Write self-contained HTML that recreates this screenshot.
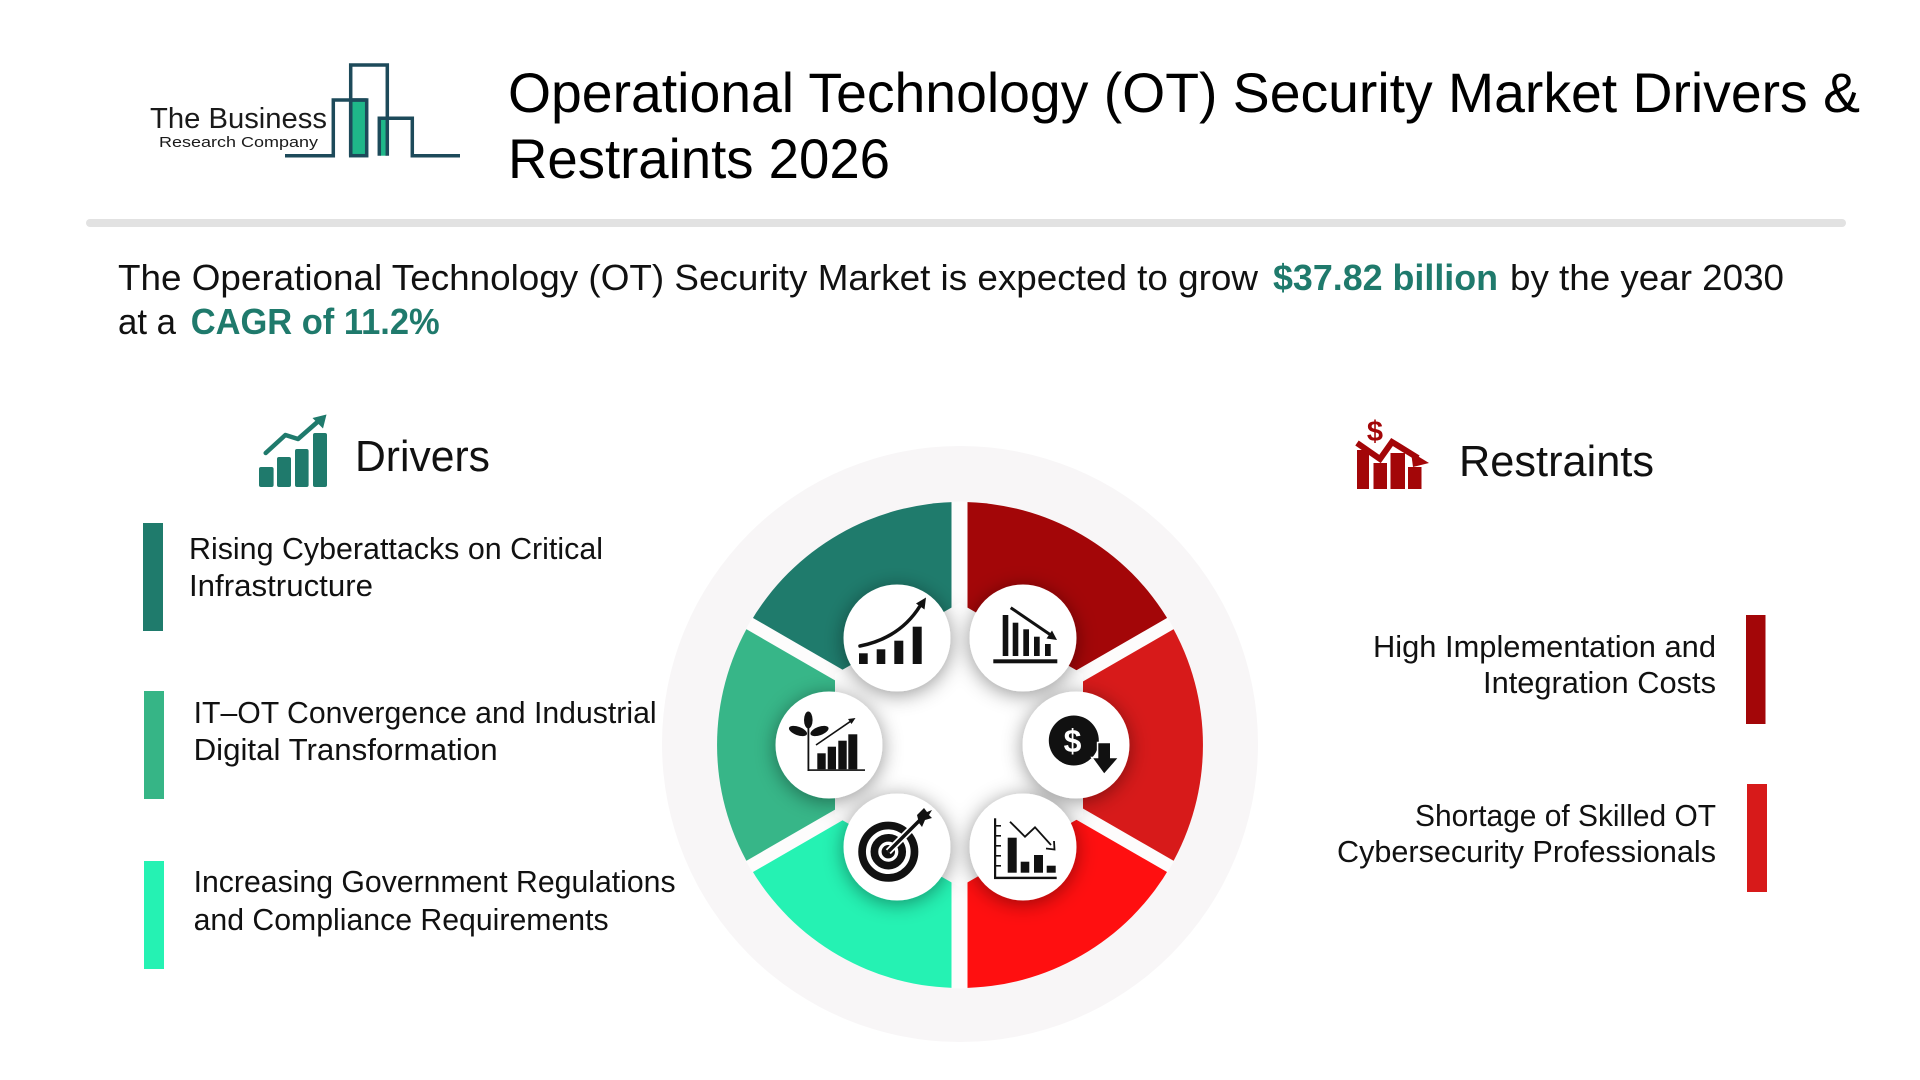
<!DOCTYPE html>
<html>
<head>
<meta charset="utf-8">
<style>
html,body{margin:0;padding:0;background:#fff;}
svg{display:block;}
text{font-family:"Liberation Sans",Arial,sans-serif;}
</style>
</head>
<body>
<svg width="1920" height="1080" viewBox="0 0 1920 1080" xmlns="http://www.w3.org/2000/svg">
<defs>
<filter id="sh" x="-60%" y="-60%" width="220%" height="220%">
<feDropShadow dx="0" dy="3" stdDeviation="10" flood-color="#000" flood-opacity="0.42"/>
</filter>
<clipPath id="ringclip"><circle cx="960" cy="745" r="243.5"/></clipPath>
</defs>
<rect width="1920" height="1080" fill="#fff"/>

<!-- Logo -->
<text x="150" y="128" font-size="29" fill="#1a1a1a" textLength="177" lengthAdjust="spacingAndGlyphs">The Business</text>
<text x="159" y="147" font-size="15" fill="#1a1a1a" textLength="159" lengthAdjust="spacingAndGlyphs">Research Company</text>
<g fill="none" stroke="#1d4a5a" stroke-width="3.5" stroke-linejoin="miter">
<rect x="350.7" y="100" width="16" height="55.7" fill="#1fb789"/>
<rect x="380.5" y="120" width="6" height="35.7" fill="#1fb789" stroke="none"/>
<polyline points="285,155.7 333.3,155.7 333.3,100 366.7,100"/>
<polyline points="350.7,155.7 350.7,65 387.3,65 387.3,155.7"/>
<polyline points="379.3,155.7 379.3,118.3 412.3,118.3 412.3,155.7 460,155.7"/>
</g>

<!-- Title -->
<text x="508" y="112" font-size="56" fill="#000" textLength="1352" lengthAdjust="spacingAndGlyphs">Operational Technology (OT) Security Market Drivers &amp;</text>
<text x="508" y="178" font-size="56" fill="#000" textLength="382" lengthAdjust="spacingAndGlyphs">Restraints 2026</text>

<!-- Separator -->
<rect x="86" y="219" width="1760" height="8" rx="4" fill="#e2e2e2"/>

<!-- Subtitle -->
<text x="118" y="290" font-size="36" fill="#111" textLength="1140" lengthAdjust="spacingAndGlyphs">The Operational Technology (OT) Security Market is expected to grow</text>
<text x="1273" y="290" font-size="36" font-weight="bold" fill="#1f7a6c" textLength="225" lengthAdjust="spacingAndGlyphs">$37.82 billion</text>
<text x="1510" y="290" font-size="36" fill="#111" textLength="274" lengthAdjust="spacingAndGlyphs">by the year 2030</text>
<text x="118" y="334" font-size="36" fill="#111" textLength="58" lengthAdjust="spacingAndGlyphs">at a</text>
<text x="190.7" y="334" font-size="36" font-weight="bold" fill="#1f7a6c" textLength="249" lengthAdjust="spacingAndGlyphs">CAGR of 11.2%</text>

<!-- Drivers heading -->
<g fill="#1f7a6c">
<rect x="259" y="467" width="14.6" height="20" rx="2"/>
<rect x="277" y="457" width="14" height="30" rx="2"/>
<rect x="295" y="449" width="13.6" height="38" rx="2"/>
<rect x="313" y="433" width="14" height="54" rx="2"/>
<polyline points="265.7,453 285.4,435 298,439 318,421.5" fill="none" stroke="#1f7a6c" stroke-width="4.5" stroke-linecap="round" stroke-linejoin="round"/>
<polygon points="326.5,414.5 312.5,418 323,428.5"/>
</g>
<text x="355" y="471" font-size="44" fill="#111" textLength="135" lengthAdjust="spacingAndGlyphs">Drivers</text>

<!-- Restraints heading -->
<g fill="#a30608">
<rect x="1357" y="450" width="12" height="39"/>
<rect x="1373.5" y="463" width="13.5" height="26"/>
<rect x="1390.5" y="453" width="14.5" height="36"/>
<rect x="1408" y="467" width="13.5" height="22"/>
<polyline points="1357,443 1380,459 1392,442 1418,458" fill="none" stroke="#a30608" stroke-width="6" stroke-linejoin="miter"/>
<polygon points="1429,463 1411,452 1413,467"/>
<text x="1375" y="441" font-size="29" font-weight="bold" fill="#a30608" text-anchor="middle">$</text>
</g>
<text x="1459" y="476" font-size="44" fill="#111" textLength="195" lengthAdjust="spacingAndGlyphs">Restraints</text>

<!-- Driver items -->
<rect x="143" y="523" width="20" height="108" fill="#1f7b6c"/>
<text x="189" y="559" font-size="31" fill="#111" textLength="414" lengthAdjust="spacingAndGlyphs">Rising Cyberattacks on Critical</text>
<text x="189" y="596" font-size="31" fill="#111" textLength="184" lengthAdjust="spacingAndGlyphs">Infrastructure</text>

<rect x="144" y="691" width="20" height="108" fill="#36b586"/>
<text x="193.6" y="723" font-size="31" fill="#111" textLength="463" lengthAdjust="spacingAndGlyphs">IT–OT Convergence and Industrial</text>
<text x="193.6" y="760" font-size="31" fill="#111" textLength="304" lengthAdjust="spacingAndGlyphs">Digital Transformation</text>

<rect x="144" y="861" width="20" height="108" fill="#25f2b3"/>
<text x="193.6" y="892" font-size="31" fill="#111" textLength="482" lengthAdjust="spacingAndGlyphs">Increasing Government Regulations</text>
<text x="193.6" y="930" font-size="31" fill="#111" textLength="415" lengthAdjust="spacingAndGlyphs">and Compliance Requirements</text>

<!-- Restraint items -->
<rect x="1746" y="615" width="19.5" height="109" fill="#a30608"/>
<text x="1716" y="657" font-size="31" fill="#111" text-anchor="end" textLength="343" lengthAdjust="spacingAndGlyphs">High Implementation and</text>
<text x="1716" y="693" font-size="31" fill="#111" text-anchor="end" textLength="233" lengthAdjust="spacingAndGlyphs">Integration Costs</text>

<rect x="1747" y="784" width="20" height="108" fill="#d71a1a"/>
<text x="1716" y="826" font-size="31" fill="#111" text-anchor="end" textLength="301" lengthAdjust="spacingAndGlyphs">Shortage of Skilled OT</text>
<text x="1716" y="862" font-size="31" fill="#111" text-anchor="end" textLength="379" lengthAdjust="spacingAndGlyphs">Cybersecurity Professionals</text>

<!-- Center graphic -->
<circle cx="960" cy="744" r="298" fill="#f8f6f7"/>
<g>
<path d="M960,745 L960,502 A243,243 0 0 1 1170.4,623.5 Z" fill="#a30608"/>
<path d="M960,745 L1170.4,623.5 A243,243 0 0 1 1170.4,866.5 Z" fill="#d71a1a"/>
<path d="M960,745 L1170.4,866.5 A243,243 0 0 1 960,988 Z" fill="#ff0f10"/>
<path d="M960,745 L960,988 A243,243 0 0 1 749.6,866.5 Z" fill="#25f2b3"/>
<path d="M960,745 L749.6,866.5 A243,243 0 0 1 749.6,623.5 Z" fill="#37b688"/>
<path d="M960,745 L749.6,623.5 A243,243 0 0 1 960,502 Z" fill="#1f7b6c"/>
</g>
<g stroke="#fdfcfc" clip-path="url(#ringclip)">
<line x1="959.5" y1="490" x2="959.5" y2="1000" stroke-width="16"/>
<line x1="735" y1="615.1" x2="1185" y2="874.9" stroke-width="13"/>
<line x1="735" y1="874.9" x2="1185" y2="615.1" stroke-width="13"/>
</g>
<polygon points="959.5,603 1083,674 1083,816 959.5,887 835,816 835,674" fill="#ffffff"/>

<!-- icon circles -->
<g fill="#fff" filter="url(#sh)">
<circle cx="897" cy="638" r="53.5"/>
<circle cx="1023" cy="638" r="53.5"/>
<circle cx="1076" cy="745" r="53.5"/>
<circle cx="1023" cy="847" r="53.5"/>
<circle cx="897" cy="847" r="53.5"/>
<circle cx="829" cy="745" r="53.5"/>
</g>

<!-- Icon 1: rising bars -->
<g fill="#111">
<rect x="859" y="653.3" width="8.7" height="10.7"/>
<rect x="876.7" y="649.3" width="8.6" height="14.7"/>
<rect x="894.3" y="640.7" width="9" height="23.3"/>
<rect x="912.7" y="626.7" width="9" height="37.3"/>
<path d="M860,646 Q900,638 920,606" fill="none" stroke="#111" stroke-width="3.5" stroke-linecap="round"/>
<polygon points="926,597.5 916,603.5 924.5,609.5"/>
</g>

<!-- Icon 2: falling bars -->
<g fill="#111">
<rect x="1002.7" y="615" width="5.6" height="41"/>
<rect x="1012.7" y="622.7" width="5.6" height="33.3"/>
<rect x="1023.3" y="629.3" width="5.7" height="26.7"/>
<rect x="1034" y="636.7" width="5.7" height="19.3"/>
<rect x="1045" y="644" width="5.7" height="12"/>
<rect x="993.3" y="659.3" width="64" height="4"/>
<line x1="1010.7" y1="607.7" x2="1050" y2="634.5" stroke="#111" stroke-width="3"/>
<polygon points="1057,640 1046.5,638.5 1052,630.5"/>
</g>

<!-- Icon 3: dollar down -->
<g>
<circle cx="1073.8" cy="740.5" r="25" fill="#111"/>
<text x="1072.5" y="752" font-size="32" font-weight="bold" fill="#fff" text-anchor="middle">$</text>
<polygon points="1098.3,743.3 1110,743.3 1110,758.3 1117.3,758.3 1104.2,773.3 1093.3,758.3 1098.3,758.3" fill="#111" stroke="#fff" stroke-width="3" stroke-linejoin="miter" paint-order="stroke"/>
</g>

<!-- Icon 4: chart with decline -->
<g fill="#111">
<rect x="994" y="818.3" width="2.2" height="60"/>
<rect x="994" y="876.7" width="62.7" height="2.4"/>
<rect x="996" y="825" width="5" height="1.6"/>
<rect x="996" y="835" width="5" height="1.6"/>
<rect x="996" y="845" width="5" height="1.6"/>
<rect x="996" y="855" width="5" height="1.6"/>
<rect x="996" y="865" width="5" height="1.6"/>
<rect x="1007.7" y="837.7" width="9" height="35"/>
<rect x="1020.7" y="861.7" width="8.6" height="11"/>
<rect x="1034" y="855" width="9" height="17.7"/>
<rect x="1046.7" y="865.7" width="9" height="7"/>
<polyline points="1010,821.7 1025,836.7 1035,827.3 1051,845" fill="none" stroke="#111" stroke-width="1.8"/>
<polyline points="1046,848.5 1054.5,849.5 1054,841" fill="none" stroke="#111" stroke-width="1.8"/>
</g>

<!-- Icon 5: target -->
<g>
<circle cx="888.3" cy="851.7" r="26.2" fill="none" stroke="#111" stroke-width="7.7"/>
<circle cx="888.3" cy="851.7" r="13.9" fill="none" stroke="#111" stroke-width="7.7"/>
<circle cx="888.3" cy="851.7" r="6.7" fill="#111"/>
<line x1="888.3" y1="851.7" x2="922" y2="818" stroke="#fff" stroke-width="7"/>
<line x1="888.3" y1="851.7" x2="922" y2="818" stroke="#111" stroke-width="3.5"/>
<polygon points="917,815 924,808 927,812 932,810 929,815 932,818 925,820 922,827 919,823" fill="#111"/>
</g>

<!-- Icon 6: plant growth -->
<g fill="#111">
<rect x="807.5" y="728" width="1.8" height="43"/>
<rect x="807.5" y="769.3" width="57.5" height="1.6"/>
<rect x="817.3" y="753.3" width="8.4" height="16"/>
<rect x="827.7" y="746.7" width="8.3" height="22.6"/>
<rect x="838.3" y="740.7" width="8.4" height="28.6"/>
<rect x="848.3" y="734.3" width="9" height="35"/>
<line x1="816" y1="745" x2="852" y2="720.3" stroke="#111" stroke-width="1.6"/>
<polygon points="855.5,718 848,719 851.5,724"/>
<ellipse cx="798" cy="731" rx="9.5" ry="4.2" transform="rotate(20 798 731)"/>
<ellipse cx="819.5" cy="731" rx="9.5" ry="4.2" transform="rotate(-20 819.5 731)"/>
<ellipse cx="808.3" cy="720" rx="4.3" ry="8.5"/>
</g>
</svg>
</body>
</html>
